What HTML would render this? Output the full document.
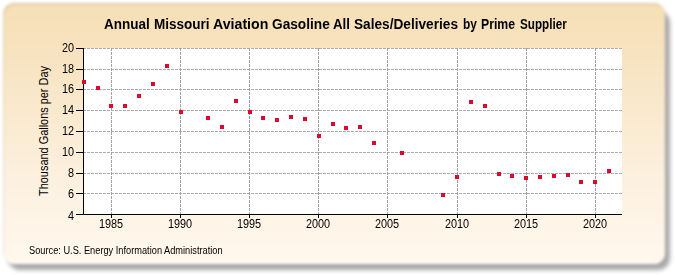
<!DOCTYPE html>
<html><head><meta charset="utf-8"><style>
html,body{margin:0;padding:0;background:#fff;width:675px;height:275px;overflow:hidden;position:relative}
.shadow{position:absolute;left:8px;top:11px;width:662px;height:259px;border-radius:12px;background:#a8a8a8;filter:blur(2.2px)}
.panel{position:absolute;left:3px;top:3px;width:662px;height:261px;border-radius:11px;box-shadow:inset 0 -2px 1px rgba(255,255,255,0.6),inset 1px 2px 1px rgba(150,140,120,0.22);background:linear-gradient(to bottom,#f5dfb6 0%,#f7e3c0 20%,#fcf1e1 70%,#fff8ee 100%);filter:blur(1.4px)}
svg{position:absolute;left:0;top:0}
.tw{position:absolute;top:16.8px;font:bold 13.8px "Liberation Sans",sans-serif;color:#000;white-space:nowrap;transform-origin:0 0}
.yl{position:absolute;left:34px;width:40px;text-align:right;font:12.5px "Liberation Sans",sans-serif;color:#000;line-height:14px;transform:scaleX(0.87);transform-origin:100% 0}
.xl{position:absolute;top:217px;width:60px;text-align:center;font:12.5px "Liberation Sans",sans-serif;color:#000;line-height:14px;transform:scaleX(0.87);transform-origin:50% 0}
.ylab{position:absolute;left:44px;top:131px;width:0;height:0}
.ylab span{position:absolute;left:0;top:0;transform:translate(-50%,-50%) rotate(-90deg) scaleX(0.91);font:12px "Liberation Sans",sans-serif;color:#000;white-space:nowrap;line-height:14px}
.src{position:absolute;left:29px;top:245px;font:10px "Liberation Sans",sans-serif;color:#000;white-space:nowrap;transform:scaleX(0.924);transform-origin:0 0}
</style></head><body>
<div class="shadow"></div>
<div class="panel"></div>
<span class="tw" style="left:103.62px;transform:scaleX(0.9778)">Annual</span>
<span class="tw" style="left:154.42px;transform:scaleX(0.9800)">Missouri</span>
<span class="tw" style="left:212.67px;transform:scaleX(1.0269)">Aviation</span>
<span class="tw" style="left:272.21px;transform:scaleX(0.9912)">Gasoline</span>
<span class="tw" style="left:332.84px;transform:scaleX(0.9625)">All</span>
<span class="tw" style="left:353.91px;transform:scaleX(0.9894)">Sales/Deliveries</span>
<span class="tw" style="left:462.64px;transform:scaleX(0.8600)">by</span>
<span class="tw" style="left:481.41px;transform:scaleX(0.8865)">Prime</span>
<span class="tw" style="left:519.65px;transform:scaleX(0.8463)">Supplier</span>
<svg width="675" height="275" shape-rendering="crispEdges">
<rect x="84" y="48" width="538" height="166" fill="#fff"/>
<line x1="84" y1="48.5" x2="622" y2="48.5" stroke="#acacac" stroke-width="1" stroke-dasharray="3,1" stroke-dashoffset="1"/>
<line x1="84" y1="69.5" x2="622" y2="69.5" stroke="#acacac" stroke-width="1" stroke-dasharray="3,1" stroke-dashoffset="1"/>
<line x1="84" y1="89.5" x2="622" y2="89.5" stroke="#acacac" stroke-width="1" stroke-dasharray="3,1" stroke-dashoffset="1"/>
<line x1="84" y1="110.5" x2="622" y2="110.5" stroke="#acacac" stroke-width="1" stroke-dasharray="3,1" stroke-dashoffset="1"/>
<line x1="84" y1="131.5" x2="622" y2="131.5" stroke="#acacac" stroke-width="1" stroke-dasharray="3,1" stroke-dashoffset="1"/>
<line x1="84" y1="152.5" x2="622" y2="152.5" stroke="#acacac" stroke-width="1" stroke-dasharray="3,1" stroke-dashoffset="1"/>
<line x1="84" y1="173.5" x2="622" y2="173.5" stroke="#acacac" stroke-width="1" stroke-dasharray="3,1" stroke-dashoffset="1"/>
<line x1="84" y1="193.5" x2="622" y2="193.5" stroke="#acacac" stroke-width="1" stroke-dasharray="3,1" stroke-dashoffset="1"/>
<line x1="111.5" y1="48" x2="111.5" y2="214" stroke="#a0a0a0" stroke-width="1" stroke-dasharray="3,1"/>
<line x1="180.5" y1="48" x2="180.5" y2="214" stroke="#a0a0a0" stroke-width="1" stroke-dasharray="3,1"/>
<line x1="249.5" y1="48" x2="249.5" y2="214" stroke="#a0a0a0" stroke-width="1" stroke-dasharray="3,1"/>
<line x1="318.5" y1="48" x2="318.5" y2="214" stroke="#a0a0a0" stroke-width="1" stroke-dasharray="3,1"/>
<line x1="387.5" y1="48" x2="387.5" y2="214" stroke="#a0a0a0" stroke-width="1" stroke-dasharray="3,1"/>
<line x1="457.5" y1="48" x2="457.5" y2="214" stroke="#a0a0a0" stroke-width="1" stroke-dasharray="3,1"/>
<line x1="526.5" y1="48" x2="526.5" y2="214" stroke="#a0a0a0" stroke-width="1" stroke-dasharray="3,1"/>
<line x1="595.5" y1="48" x2="595.5" y2="214" stroke="#a0a0a0" stroke-width="1" stroke-dasharray="3,1"/>
<line x1="83.5" y1="48" x2="83.5" y2="215" stroke="#000" stroke-width="1"/>
<line x1="83" y1="214.5" x2="622" y2="214.5" stroke="#000" stroke-width="1"/>
<line x1="76" y1="48.5" x2="83" y2="48.5" stroke="#000" stroke-width="1"/>
<line x1="76" y1="69.5" x2="83" y2="69.5" stroke="#000" stroke-width="1"/>
<line x1="76" y1="89.5" x2="83" y2="89.5" stroke="#000" stroke-width="1"/>
<line x1="76" y1="110.5" x2="83" y2="110.5" stroke="#000" stroke-width="1"/>
<line x1="76" y1="131.5" x2="83" y2="131.5" stroke="#000" stroke-width="1"/>
<line x1="76" y1="152.5" x2="83" y2="152.5" stroke="#000" stroke-width="1"/>
<line x1="76" y1="173.5" x2="83" y2="173.5" stroke="#000" stroke-width="1"/>
<line x1="76" y1="193.5" x2="83" y2="193.5" stroke="#000" stroke-width="1"/>
<line x1="76" y1="214.5" x2="83" y2="214.5" stroke="#000" stroke-width="1"/>
<line x1="111.5" y1="214" x2="111.5" y2="218" stroke="#000" stroke-width="1"/>
<line x1="180.5" y1="214" x2="180.5" y2="218" stroke="#000" stroke-width="1"/>
<line x1="249.5" y1="214" x2="249.5" y2="218" stroke="#000" stroke-width="1"/>
<line x1="318.5" y1="214" x2="318.5" y2="218" stroke="#000" stroke-width="1"/>
<line x1="387.5" y1="214" x2="387.5" y2="218" stroke="#000" stroke-width="1"/>
<line x1="457.5" y1="214" x2="457.5" y2="218" stroke="#000" stroke-width="1"/>
<line x1="526.5" y1="214" x2="526.5" y2="218" stroke="#000" stroke-width="1"/>
<line x1="595.5" y1="214" x2="595.5" y2="218" stroke="#000" stroke-width="1"/>
<rect x="82" y="80" width="4" height="4" fill="#dc0a28"/>
<rect x="96" y="86" width="4" height="4" fill="#dc0a28"/>
<rect x="109" y="104" width="4" height="4" fill="#dc0a28"/>
<rect x="123" y="104" width="4" height="4" fill="#dc0a28"/>
<rect x="137" y="94" width="4" height="4" fill="#dc0a28"/>
<rect x="151" y="82" width="4" height="4" fill="#dc0a28"/>
<rect x="165" y="64" width="4" height="4" fill="#dc0a28"/>
<rect x="179" y="110" width="4" height="4" fill="#dc0a28"/>
<rect x="206" y="116" width="4" height="4" fill="#dc0a28"/>
<rect x="220" y="125" width="4" height="4" fill="#dc0a28"/>
<rect x="234" y="99" width="4" height="4" fill="#dc0a28"/>
<rect x="248" y="110" width="4" height="4" fill="#dc0a28"/>
<rect x="261" y="116" width="4" height="4" fill="#dc0a28"/>
<rect x="275" y="118" width="4" height="4" fill="#dc0a28"/>
<rect x="289" y="115" width="4" height="4" fill="#dc0a28"/>
<rect x="303" y="117" width="4" height="4" fill="#dc0a28"/>
<rect x="317" y="134" width="4" height="4" fill="#dc0a28"/>
<rect x="331" y="122" width="4" height="4" fill="#dc0a28"/>
<rect x="344" y="126" width="4" height="4" fill="#dc0a28"/>
<rect x="358" y="125" width="4" height="4" fill="#dc0a28"/>
<rect x="372" y="141" width="4" height="4" fill="#dc0a28"/>
<rect x="400" y="151" width="4" height="4" fill="#dc0a28"/>
<rect x="441" y="193" width="4" height="4" fill="#dc0a28"/>
<rect x="455" y="175" width="4" height="4" fill="#dc0a28"/>
<rect x="469" y="100" width="4" height="4" fill="#dc0a28"/>
<rect x="483" y="104" width="4" height="4" fill="#dc0a28"/>
<rect x="497" y="172" width="4" height="4" fill="#dc0a28"/>
<rect x="510" y="174" width="4" height="4" fill="#dc0a28"/>
<rect x="524" y="176" width="4" height="4" fill="#dc0a28"/>
<rect x="538" y="175" width="4" height="4" fill="#dc0a28"/>
<rect x="552" y="174" width="4" height="4" fill="#dc0a28"/>
<rect x="566" y="173" width="4" height="4" fill="#dc0a28"/>
<rect x="579" y="180" width="4" height="4" fill="#dc0a28"/>
<rect x="593" y="180" width="4" height="4" fill="#dc0a28"/>
<rect x="607" y="169" width="4" height="4" fill="#dc0a28"/>
</svg>
<div class="yl" style="top:41px">20</div>
<div class="yl" style="top:62px">18</div>
<div class="yl" style="top:82px">16</div>
<div class="yl" style="top:103px">14</div>
<div class="yl" style="top:124px">12</div>
<div class="yl" style="top:145px">10</div>
<div class="yl" style="top:166px">8</div>
<div class="yl" style="top:186.5px">6</div>
<div class="yl" style="top:208.5px">4</div>
<div class="xl" style="left:81.0px">1985</div>
<div class="xl" style="left:150.0px">1990</div>
<div class="xl" style="left:219.0px">1995</div>
<div class="xl" style="left:288.0px">2000</div>
<div class="xl" style="left:357.0px">2005</div>
<div class="xl" style="left:427.0px">2010</div>
<div class="xl" style="left:496.0px">2015</div>
<div class="xl" style="left:565.0px">2020</div>
<div class="ylab"><span>Thousand Gallons per Day</span></div>
<div class="src">Source: U.S. Energy Information Administration</div>
</body></html>
